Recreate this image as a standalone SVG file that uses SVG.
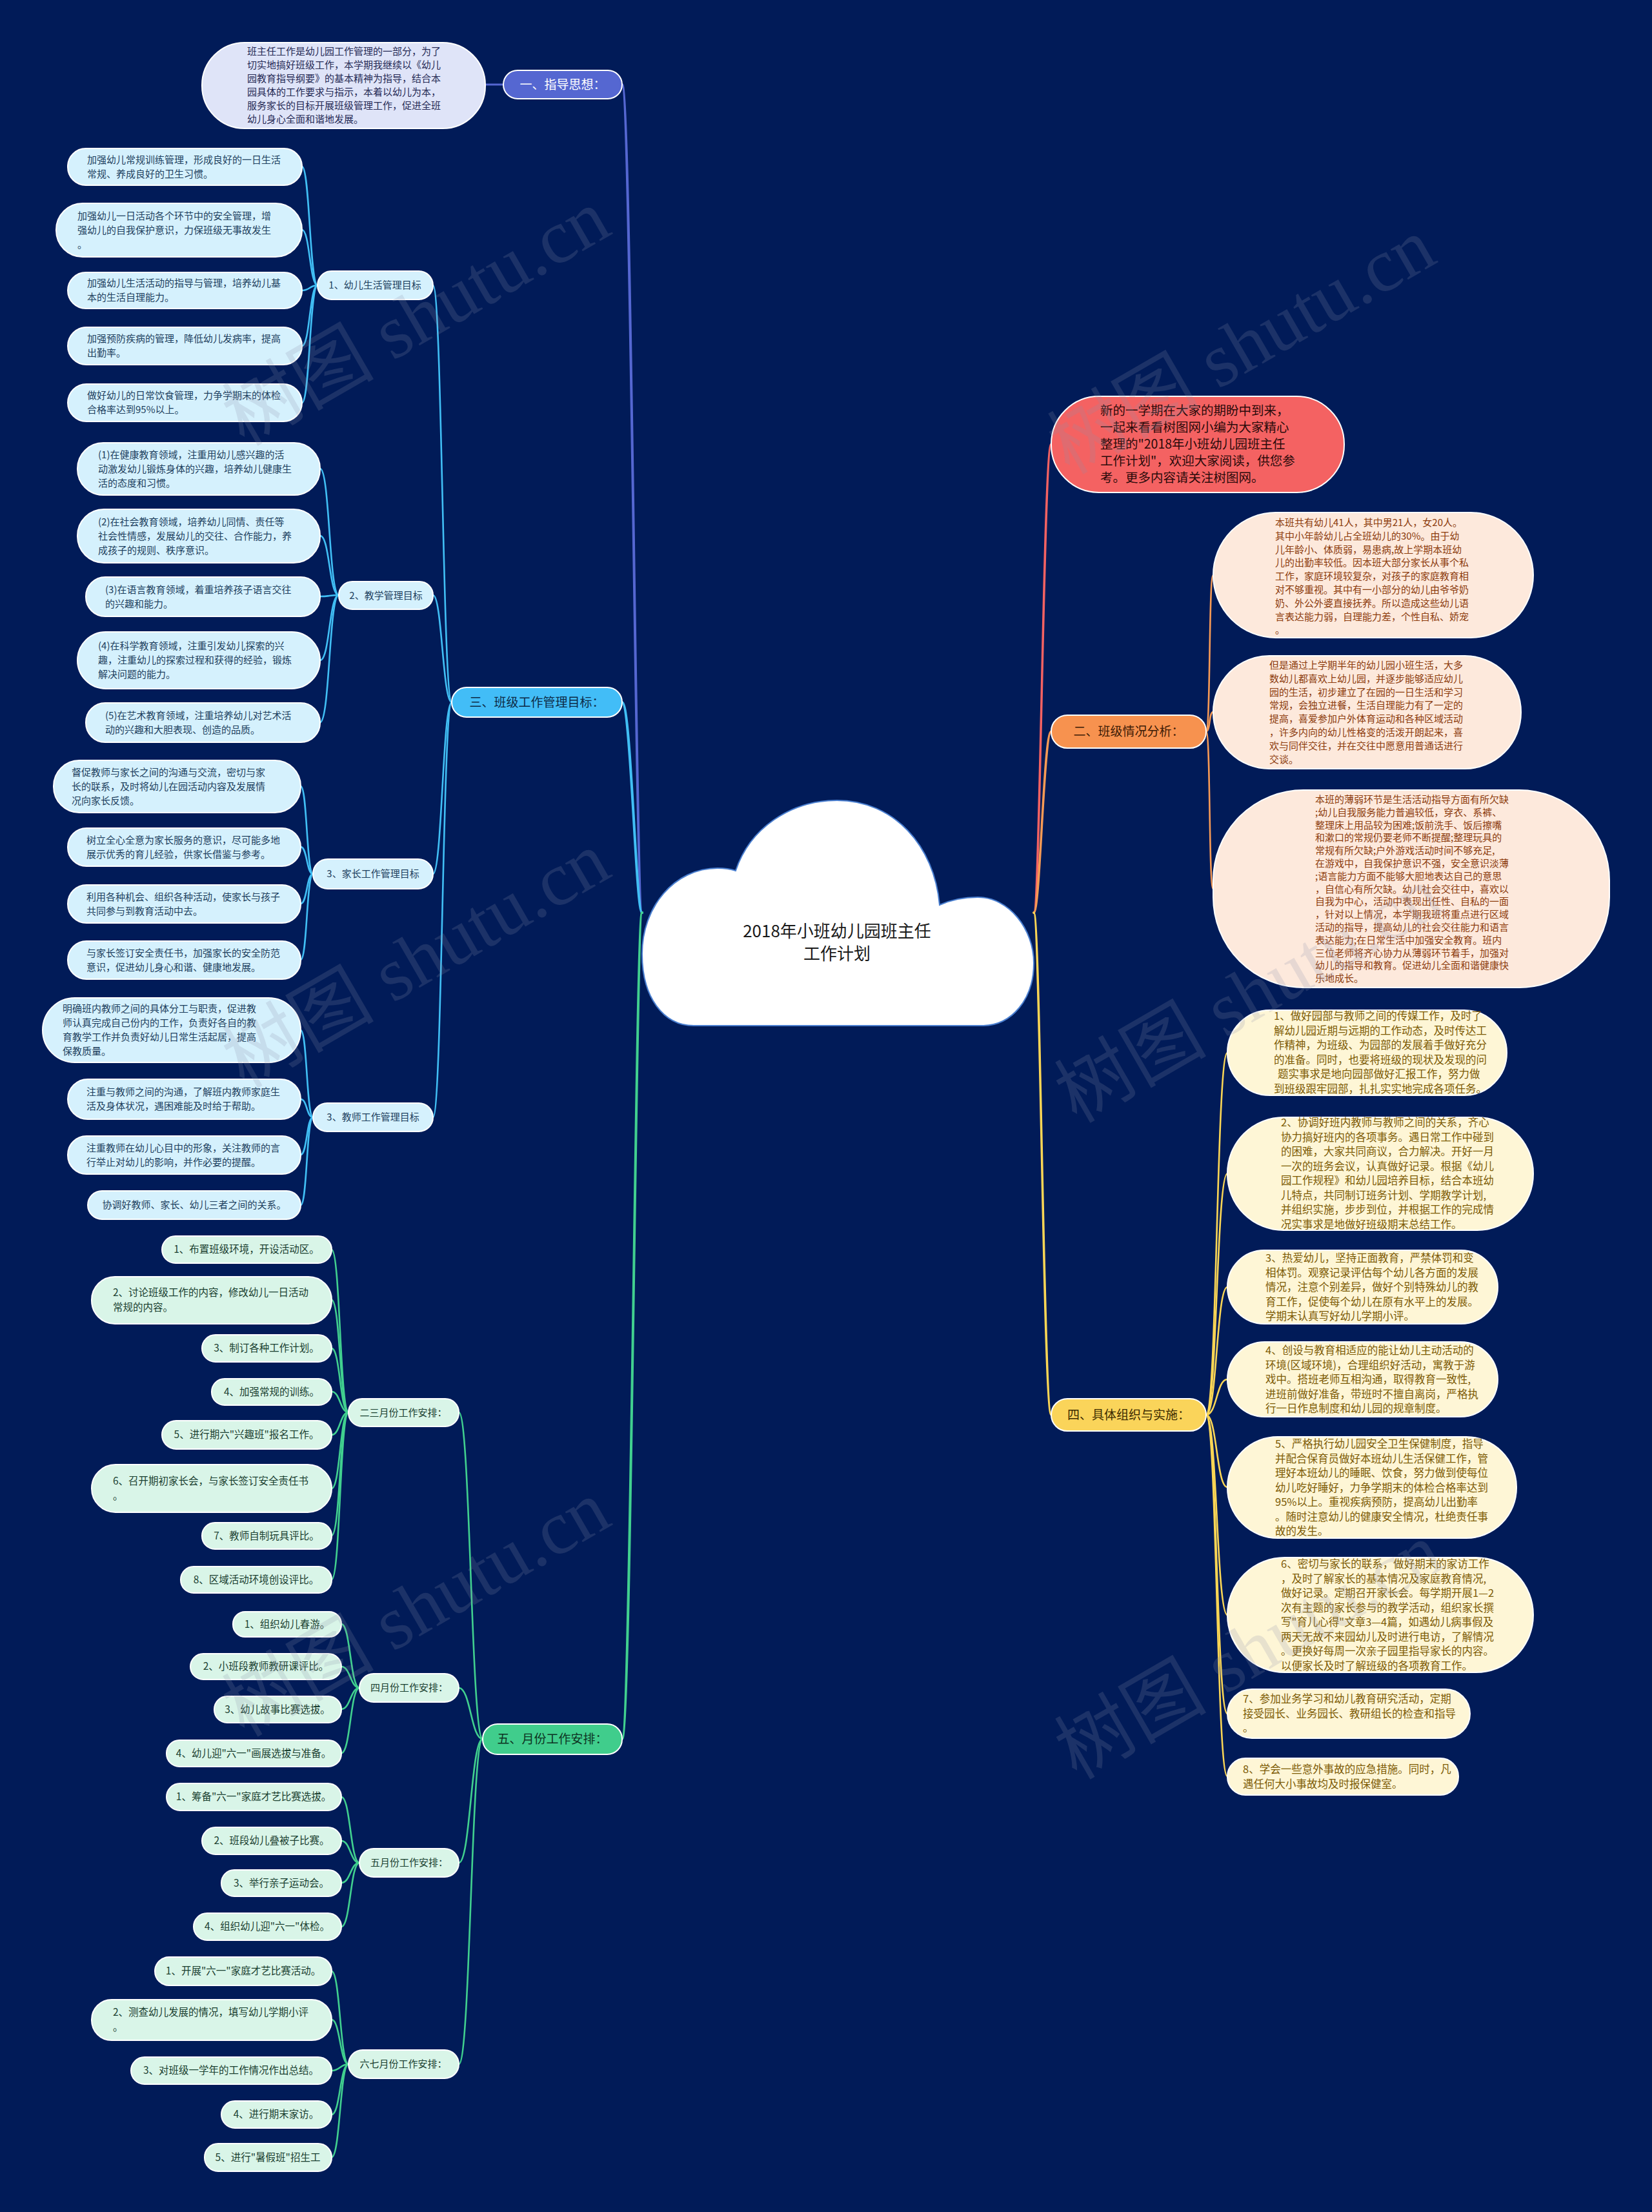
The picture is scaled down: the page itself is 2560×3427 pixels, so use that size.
<svg xmlns="http://www.w3.org/2000/svg" width="2560" height="3427" viewBox="0 0 2560 3427">
<style>
text{font-family:"Noto Sans CJK SC","Noto Sans",sans-serif}
.nd{stroke:#ffffff;stroke-width:2}
.c{fill:none;stroke-linecap:round}
.cb1{stroke:#5567d1;stroke-width:4}
.cb3{stroke:#41bff5;stroke-width:4}
.cb3s{stroke:#41bff5;stroke-width:2.6}
.cg{stroke:#41d08f;stroke-width:4}
.cgs{stroke:#41d08f;stroke-width:2.6}
.cr{stroke:#f46262;stroke-width:3.5}
.co{stroke:#f79a55;stroke-width:3.5}
.cos{stroke:#f79a55;stroke-width:2.6}
.cy{stroke:#fbd655;stroke-width:3.5}
.cys{stroke:#fbd655;stroke-width:2.6}
.fl{fill:#d5f1fd}
.fm{fill:#d9f5e8}
.fp{fill:#fde9dc}
.fc{fill:#fef6d6}
.tl{font-size:15px;fill:#1d3f5e}
.tm{font-size:15.5px;fill:#1a4030}
.tp{font-size:15px;fill:#8c3b0c}
.tc{font-size:16.5px;fill:#7d5b05}
.t1{font-size:19px}
.mid{text-anchor:middle}
.wm{font-family:"Liberation Serif","Noto Sans CJK SC",serif;font-size:118px;fill:#8a93a8;fill-opacity:0.2}
</style>
<rect x="0" y="0" width="2560" height="3427" fill="#011b58"/>

<g id="connectors">
<path class="c cb1" d="M 995 1414 C 985 1414, 978 131, 964 131"/>
<path class="c cb1" d="M 780 131 L 752 131" style="stroke-width:3"/>
<path class="c cb3" d="M 995 1414 C 985 1414, 978 1088, 964 1088"/>
<path class="c cg" d="M 995 1414 C 985 1414, 978 2694, 964 2694"/>
<path class="c cr" d="M 1602 1414 C 1612 1414, 1617 688, 1629 688"/>
<path class="c co" d="M 1602 1414 C 1612 1414, 1617 1133, 1629 1133"/>
<path class="c cy" d="M 1602 1414 C 1612 1414, 1617 2192, 1629 2192"/>

<path class="c cb3s" d="M 700 1088 C 686 1088, 685 442, 671 442"/>
<path class="c cb3s" d="M 700 1088 C 686 1088, 685 922, 671 922"/>
<path class="c cb3s" d="M 700 1088 C 686 1088, 685 1354, 671 1354"/>
<path class="c cb3s" d="M 700 1088 C 686 1088, 685 1731, 671 1731"/>

<path class="c cb3s" d="M 492 442 C 480 442, 480 258, 468 258"/>
<path class="c cb3s" d="M 492 442 C 480 442, 480 356, 468 356"/>
<path class="c cb3s" d="M 492 442 C 480 442, 480 450, 468 450"/>
<path class="c cb3s" d="M 492 442 C 480 442, 480 536, 468 536"/>
<path class="c cb3s" d="M 492 442 C 480 442, 480 624, 468 624"/>

<path class="c cb3s" d="M 525 922 C 510 922, 511 726, 496 726"/>
<path class="c cb3s" d="M 525 922 C 510 922, 511 830, 496 830"/>
<path class="c cb3s" d="M 525 922 C 510 922, 511 924, 496 924"/>
<path class="c cb3s" d="M 525 922 C 510 922, 511 1023, 496 1023"/>
<path class="c cb3s" d="M 525 922 C 510 922, 511 1119, 496 1119"/>

<path class="c cb3s" d="M 485 1354 C 475 1354, 476 1218, 466 1218"/>
<path class="c cb3s" d="M 485 1354 C 475 1354, 476 1312, 466 1312"/>
<path class="c cb3s" d="M 485 1354 C 475 1354, 476 1400, 466 1400"/>
<path class="c cb3s" d="M 485 1354 C 475 1354, 476 1487, 466 1487"/>

<path class="c cb3s" d="M 485 1731 C 475 1731, 476 1596, 466 1596"/>
<path class="c cb3s" d="M 485 1731 C 475 1731, 476 1703, 466 1703"/>
<path class="c cb3s" d="M 485 1731 C 475 1731, 476 1789, 466 1789"/>
<path class="c cb3s" d="M 485 1731 C 475 1731, 476 1867, 466 1867"/>

<path class="c cgs" d="M 748 2694 C 730 2694, 729 2188, 711 2188"/>
<path class="c cgs" d="M 748 2694 C 730 2694, 729 2615, 711 2615"/>
<path class="c cgs" d="M 748 2694 C 730 2694, 729 2886, 711 2886"/>
<path class="c cgs" d="M 748 2694 C 730 2694, 729 3198, 711 3198"/>

<path class="c cgs" d="M 540 2188 C 527 2188, 527 1936, 514 1936"/>
<path class="c cgs" d="M 540 2188 C 527 2188, 527 2014, 514 2014"/>
<path class="c cgs" d="M 540 2188 C 527 2188, 527 2089, 514 2089"/>
<path class="c cgs" d="M 540 2188 C 527 2188, 527 2156, 514 2156"/>
<path class="c cgs" d="M 540 2188 C 527 2188, 527 2223, 514 2223"/>
<path class="c cgs" d="M 540 2188 C 527 2188, 527 2306, 514 2306"/>
<path class="c cgs" d="M 540 2188 C 527 2188, 527 2379, 514 2379"/>
<path class="c cgs" d="M 540 2188 C 527 2188, 527 2447, 514 2447"/>

<path class="c cgs" d="M 557 2615 C 543 2615, 543 2516, 529 2516"/>
<path class="c cgs" d="M 557 2615 C 543 2615, 543 2582, 529 2582"/>
<path class="c cgs" d="M 557 2615 C 543 2615, 543 2648, 529 2648"/>
<path class="c cgs" d="M 557 2615 C 543 2615, 543 2716, 529 2716"/>

<path class="c cgs" d="M 557 2886 C 543 2886, 543 2784, 529 2784"/>
<path class="c cgs" d="M 557 2886 C 543 2886, 543 2852, 529 2852"/>
<path class="c cgs" d="M 557 2886 C 543 2886, 543 2917, 529 2917"/>
<path class="c cgs" d="M 557 2886 C 543 2886, 543 2985, 529 2985"/>

<path class="c cgs" d="M 540 3198 C 527 3198, 527 3054, 514 3054"/>
<path class="c cgs" d="M 540 3198 C 527 3198, 527 3129, 514 3129"/>
<path class="c cgs" d="M 540 3198 C 527 3198, 527 3208, 514 3208"/>
<path class="c cgs" d="M 540 3198 C 527 3198, 527 3276, 514 3276"/>
<path class="c cgs" d="M 540 3198 C 527 3198, 527 3342, 514 3342"/>

<path class="c cos" d="M 1869 1133 C 1876 1133, 1873 891, 1880 891"/>
<path class="c cos" d="M 1869 1133 C 1876 1133, 1873 1103, 1880 1103"/>
<path class="c cos" d="M 1869 1133 C 1876 1133, 1873 1377, 1880 1377"/>

<path class="c cys" d="M 1869 2192 C 1886 2192, 1885 1631, 1902 1631"/>
<path class="c cys" d="M 1869 2192 C 1886 2192, 1885 1818, 1902 1818"/>
<path class="c cys" d="M 1869 2192 C 1886 2192, 1885 1994, 1902 1994"/>
<path class="c cys" d="M 1869 2192 C 1886 2192, 1885 2137, 1902 2137"/>
<path class="c cys" d="M 1869 2192 C 1886 2192, 1885 2304, 1902 2304"/>
<path class="c cys" d="M 1869 2192 C 1886 2192, 1885 2502, 1902 2502"/>
<path class="c cys" d="M 1869 2192 C 1886 2192, 1885 2655, 1902 2655"/>
<path class="c cys" d="M 1869 2192 C 1886 2192, 1885 2752, 1902 2752"/>
</g>

<g id="root">
<path d="M 1075 1589 C 1028 1589, 995 1545, 995 1478 C 995 1405, 1045 1345, 1112 1345 C 1122 1345, 1131 1346, 1140 1349 C 1162 1283, 1225 1240, 1297 1240 C 1385 1240, 1448 1310, 1456 1402 C 1474 1394, 1494 1390, 1515 1390 C 1564 1390, 1602 1440, 1602 1492 C 1602 1548, 1568 1589, 1522 1589 Z" fill="#ffffff" stroke="#4a7fd0" stroke-width="2"/>
<text class="mid" x="1297" y="1452" font-size="26" fill="#1a1a1a">2018年小班幼儿园班主任</text>
<text class="mid" x="1297" y="1487" font-size="26" fill="#1a1a1a">工作计划</text>
</g>

<g id="b1">
<rect class="nd" x="780" y="109" width="184" height="44" rx="22" fill="#5567d1"/>
<text class="t1 mid" x="872" y="138" fill="#ffffff">一、指导思想：</text>
</g>
<g id="b1-1">
<rect class="nd" x="313" y="66" width="439" height="133" rx="66" fill="#dfe4f8"/>
<text x="383" y="85" font-size="15" fill="#262a55"><tspan x="383">班主任工作是幼儿园工作管理的一部分，为了</tspan><tspan x="383" dy="21">切实地搞好班级工作，本学期我继续以《幼儿</tspan><tspan x="383" dy="21">园教育指导纲要》的基本精神为指导，结合本</tspan><tspan x="383" dy="21">园具体的工作要求与指示，本着以幼儿为本，</tspan><tspan x="383" dy="21">服务家长的目标开展班级管理工作，促进全班</tspan><tspan x="383" dy="21">幼儿身心全面和谐地发展。</tspan></text>
</g>

<g id="b3">
<rect class="nd" x="700" y="1065" width="264" height="46" rx="23" fill="#42bdf7"/>
<text class="t1 mid" x="832" y="1095" fill="#0d2a45">三、班级工作管理目标：</text>
</g>
<g id="b3-1">
<rect class="nd fl" x="492" y="420" width="179" height="44" rx="22"/>
<text class="tl mid" x="581" y="447">1、幼儿生活管理目标</text>
</g>
<g id="b3-1a"><rect class="nd fl" x="105" y="230" width="363" height="57" rx="28"/>
<text class="tl" y="253"><tspan x="135">加强幼儿常规训练管理，形成良好的一日生活</tspan><tspan x="135" dy="22">常规、养成良好的卫生习惯。</tspan></text></g>
<g id="b3-1b"><rect class="nd fl" x="87" y="315" width="381" height="83" rx="41"/>
<text class="tl" y="340"><tspan x="120">加强幼儿一日活动各个环节中的安全管理，增</tspan><tspan x="120" dy="22">强幼儿的自我保护意识，力保班级无事故发生</tspan><tspan x="120" dy="22">。</tspan></text></g>
<g id="b3-1c"><rect class="nd fl" x="105" y="422" width="363" height="56" rx="28"/>
<text class="tl" y="444"><tspan x="135">加强幼儿生活活动的指导与管理，培养幼儿基</tspan><tspan x="135" dy="22">本的生活自理能力。</tspan></text></g>
<g id="b3-1d"><rect class="nd fl" x="105" y="507" width="363" height="58" rx="29"/>
<text class="tl" y="530"><tspan x="135">加强预防疾病的管理，降低幼儿发病率，提高</tspan><tspan x="135" dy="22">出勤率。</tspan></text></g>
<g id="b3-1e"><rect class="nd fl" x="105" y="595" width="363" height="58" rx="29"/>
<text class="tl" y="618"><tspan x="135">做好幼儿的日常饮食管理，力争学期末的体检</tspan><tspan x="135" dy="22">合格率达到95%以上。</tspan></text></g>

<g id="b3-2">
<rect class="nd fl" x="525" y="901" width="146" height="43" rx="21"/>
<text class="tl mid" x="598" y="928">2、教学管理目标</text>
</g>
<g id="b3-2a"><rect class="nd fl" x="120" y="686" width="376" height="81" rx="40"/>
<text class="tl" y="710"><tspan x="152">(1)在健康教育领域，注重用幼儿感兴趣的活</tspan><tspan x="152" dy="22">动激发幼儿锻炼身体的兴趣，培养幼儿健康生</tspan><tspan x="152" dy="22">活的态度和习惯。</tspan></text></g>
<g id="b3-2b"><rect class="nd fl" x="120" y="789" width="376" height="83" rx="41"/>
<text class="tl" y="814"><tspan x="152">(2)在社会教育领域，培养幼儿同情、责任等</tspan><tspan x="152" dy="22">社会性情感，发展幼儿的交往、合作能力，养</tspan><tspan x="152" dy="22">成孩子的规则、秩序意识。</tspan></text></g>
<g id="b3-2c"><rect class="nd fl" x="133" y="894" width="363" height="61" rx="30"/>
<text class="tl" y="919"><tspan x="163">(3)在语言教育领域，着重培养孩子语言交往</tspan><tspan x="163" dy="22">的兴趣和能力。</tspan></text></g>
<g id="b3-2d"><rect class="nd fl" x="120" y="979" width="376" height="88" rx="44"/>
<text class="tl" y="1006"><tspan x="152">(4)在科学教育领域，注重引发幼儿探索的兴</tspan><tspan x="152" dy="22">趣，注重幼儿的探索过程和获得的经验，锻炼</tspan><tspan x="152" dy="22">解决问题的能力。</tspan></text></g>
<g id="b3-2e"><rect class="nd fl" x="133" y="1089" width="363" height="61" rx="30"/>
<text class="tl" y="1114"><tspan x="163">(5)在艺术教育领域，注重培养幼儿对艺术活</tspan><tspan x="163" dy="22">动的兴趣和大胆表现、创造的品质。</tspan></text></g>

<g id="b3-3">
<rect class="nd fl" x="485" y="1331" width="186" height="46" rx="23"/>
<text class="tl mid" x="578" y="1359">3、家长工作管理目标</text>
</g>
<g id="b3-3a"><rect class="nd fl" x="83" y="1178" width="383" height="81" rx="40"/>
<text class="tl" y="1202"><tspan x="111">督促教师与家长之间的沟通与交流，密切与家</tspan><tspan x="111" dy="22">长的联系，及时将幼儿在园活动内容及发展情</tspan><tspan x="111" dy="22">况向家长反馈。</tspan></text></g>
<g id="b3-3b"><rect class="nd fl" x="105" y="1283" width="361" height="59" rx="29"/>
<text class="tl" y="1307"><tspan x="134">树立全心全意为家长服务的意识，尽可能多地</tspan><tspan x="134" dy="22">展示优秀的育儿经验，供家长借鉴与参考。</tspan></text></g>
<g id="b3-3c"><rect class="nd fl" x="105" y="1371" width="361" height="59" rx="29"/>
<text class="tl" y="1395"><tspan x="134">利用各种机会、组织各种活动，使家长与孩子</tspan><tspan x="134" dy="22">共同参与到教育活动中去。</tspan></text></g>
<g id="b3-3d"><rect class="nd fl" x="105" y="1458" width="361" height="59" rx="29"/>
<text class="tl" y="1482"><tspan x="134">与家长签订安全责任书，加强家长的安全防范</tspan><tspan x="134" dy="22">意识，促进幼儿身心和谐、健康地发展。</tspan></text></g>

<g id="b3-4">
<rect class="nd fl" x="485" y="1709" width="186" height="44" rx="22"/>
<text class="tl mid" x="578" y="1736">3、教师工作管理目标</text>
</g>
<g id="b3-4a"><rect class="nd fl" x="66" y="1546" width="400" height="100" rx="50"/>
<text class="tl" y="1568"><tspan x="97">明确班内教师之间的具体分工与职责，促进教</tspan><tspan x="97" dy="22">师认真完成自己份内的工作，负责好各自的教</tspan><tspan x="97" dy="22">育教学工作并负责好幼儿日常生活起居，提高</tspan><tspan x="97" dy="22">保教质量。</tspan></text></g>
<g id="b3-4b"><rect class="nd fl" x="105" y="1672" width="361" height="62" rx="31"/>
<text class="tl" y="1697"><tspan x="134">注重与教师之间的沟通，了解班内教师家庭生</tspan><tspan x="134" dy="22">活及身体状况，遇困难能及时给于帮助。</tspan></text></g>
<g id="b3-4c"><rect class="nd fl" x="105" y="1760" width="361" height="59" rx="29"/>
<text class="tl" y="1784"><tspan x="134">注重教师在幼儿心目中的形象，关注教师的言</tspan><tspan x="134" dy="22">行举止对幼儿的影响，并作必要的提醒。</tspan></text></g>
<g id="b3-4d"><rect class="nd fl" x="136" y="1845" width="330" height="44" rx="22"/>
<text class="tl mid" x="301" y="1872">协调好教师、家长、幼儿三者之间的关系。</text></g>

<g id="b5">
<rect class="nd" x="748" y="2671" width="216" height="47" rx="23" fill="#40cd8c"/>
<text class="t1 mid" x="856" y="2701" fill="#0d3322">五、月份工作安排：</text>
</g>
<g id="b5-1"><rect class="nd fm" x="540" y="2167" width="171" height="43" rx="21"/>
<text class="tm mid" x="625" y="2194" style="font-size:15px">二三月份工作安排：</text></g>
<g id="b5-1a"><rect class="nd fm" x="251" y="1915" width="263" height="42" rx="21"/><text class="tm mid" x="382" y="1941">1、布置班级环境，开设活动区。</text></g>
<g id="b5-1b"><rect class="nd fm" x="142" y="1978" width="372" height="73" rx="36"/><text class="tm" y="2008"><tspan x="175">2、讨论班级工作的内容，修改幼儿一日活动</tspan><tspan x="175" dy="23">常规的内容。</tspan></text></g>
<g id="b5-1c"><rect class="nd fm" x="313" y="2068" width="201" height="42" rx="21"/><text class="tm mid" x="413" y="2094">3、制订各种工作计划。</text></g>
<g id="b5-1d"><rect class="nd fm" x="328" y="2136" width="186" height="41" rx="20"/><text class="tm mid" x="421" y="2162">4、加强常规的训练。</text></g>
<g id="b5-1e"><rect class="nd fm" x="251" y="2201" width="263" height="44" rx="22"/><text class="tm mid" x="382" y="2228">5、进行期六&quot;兴趣班&quot;报名工作。</text></g>
<g id="b5-1f"><rect class="nd fm" x="142" y="2269" width="372" height="74" rx="37"/><text class="tm" y="2300"><tspan x="175">6、召开期初家长会，与家长签订安全责任书</tspan><tspan x="175" dy="23">。</tspan></text></g>
<g id="b5-1g"><rect class="nd fm" x="313" y="2359" width="201" height="41" rx="20"/><text class="tm mid" x="413" y="2385">7、教师自制玩具评比。</text></g>
<g id="b5-1h"><rect class="nd fm" x="280" y="2427" width="234" height="41" rx="20"/><text class="tm mid" x="397" y="2453">8、区域活动环境创设评比。</text></g>

<g id="b5-2"><rect class="nd fm" x="557" y="2593" width="154" height="44" rx="22"/>
<text class="tm mid" x="634" y="2620" style="font-size:15px">四月份工作安排：</text></g>
<g id="b5-2a"><rect class="nd fm" x="361" y="2497" width="168" height="39" rx="19"/><text class="tm mid" x="445" y="2522">1、组织幼儿春游。</text></g>
<g id="b5-2b"><rect class="nd fm" x="295" y="2562" width="234" height="40" rx="20"/><text class="tm mid" x="412" y="2587">2、小班段教师教研课评比。</text></g>
<g id="b5-2c"><rect class="nd fm" x="332" y="2628" width="197" height="41" rx="20"/><text class="tm mid" x="430" y="2654">3、幼儿故事比赛选拔。</text></g>
<g id="b5-2d"><rect class="nd fm" x="258" y="2696" width="271" height="41" rx="20"/><text class="tm mid" x="393" y="2722">4、幼儿迎&quot;六一&quot;画展选拔与准备。</text></g>

<g id="b5-3"><rect class="nd fm" x="557" y="2864" width="154" height="44" rx="22"/>
<text class="tm mid" x="634" y="2891" style="font-size:15px">五月份工作安排：</text></g>
<g id="b5-3a"><rect class="nd fm" x="258" y="2763" width="271" height="42" rx="21"/><text class="tm mid" x="393" y="2789">1、筹备&quot;六一&quot;家庭才艺比赛选拔。</text></g>
<g id="b5-3b"><rect class="nd fm" x="313" y="2831" width="216" height="42" rx="21"/><text class="tm mid" x="421" y="2857">2、班段幼儿叠被子比赛。</text></g>
<g id="b5-3c"><rect class="nd fm" x="343" y="2897" width="186" height="41" rx="20"/><text class="tm mid" x="436" y="2923">3、举行亲子运动会。</text></g>
<g id="b5-3d"><rect class="nd fm" x="300" y="2964" width="229" height="42" rx="21"/><text class="tm mid" x="414" y="2990">4、组织幼儿迎&quot;六一&quot;体检。</text></g>

<g id="b5-4"><rect class="nd fm" x="540" y="3176" width="171" height="44" rx="22"/>
<text class="tm mid" x="625" y="3203" style="font-size:15px">六七月份工作安排：</text></g>
<g id="b5-4a"><rect class="nd fm" x="240" y="3032" width="274" height="44" rx="22"/><text class="tm mid" x="377" y="3059">1、开展&quot;六一&quot;家庭才艺比赛活动。</text></g>
<g id="b5-4b"><rect class="nd fm" x="142" y="3098" width="372" height="63" rx="31"/><text class="tm" y="3123"><tspan x="175">2、测查幼儿发展的情况，填写幼儿学期小评</tspan><tspan x="175" dy="23">。</tspan></text></g>
<g id="b5-4c"><rect class="nd fm" x="203" y="3187" width="311" height="42" rx="21"/><text class="tm mid" x="358" y="3213">3、对班级一学年的工作情况作出总结。</text></g>
<g id="b5-4d"><rect class="nd fm" x="343" y="3255" width="171" height="42" rx="21"/><text class="tm mid" x="428" y="3281">4、进行期末家访。</text></g>
<g id="b5-4e"><rect class="nd fm" x="317" y="3321" width="197" height="43" rx="21"/><text class="tm mid" x="415" y="3348">5、进行&quot;暑假班&quot;招生工</text></g>

<g id="intro">
<rect class="nd" x="1629" y="614" width="454" height="149" rx="74" fill="#f46262"/>
<text y="643" font-size="19.5" fill="#2a0a0a"><tspan x="1705">新的一学期在大家的期盼中到来，</tspan><tspan x="1705" dy="26">一起来看看树图网小编为大家精心</tspan><tspan x="1705" dy="26">整理的&quot;2018年小班幼儿园班主任</tspan><tspan x="1705" dy="26">工作计划&quot;，欢迎大家阅读，供您参</tspan><tspan x="1705" dy="26">考。更多内容请关注树图网。</tspan></text>
</g>

<g id="b2">
<rect class="nd" x="1629" y="1108" width="240" height="51" rx="25" fill="#f7924f"/>
<text class="t1 mid" x="1749" y="1140" fill="#3b1a05">二、班级情况分析：</text>
</g>
<g id="b2-1"><rect class="nd fp" x="1880" y="794" width="496" height="194" rx="97"/>
<text class="tp" y="815"><tspan x="1976">本班共有幼儿41人，其中男21人，女20人。</tspan><tspan x="1976" dy="20.8">其中小年龄幼儿占全班幼儿的30%。由于幼</tspan><tspan x="1976" dy="20.8">儿年龄小、体质弱，易患病,故上学期本班幼</tspan><tspan x="1976" dy="20.8">儿的出勤率较低。因本班大部分家长从事个私</tspan><tspan x="1976" dy="20.8">工作，家庭环境较复杂，对孩子的家庭教育相</tspan><tspan x="1976" dy="20.8">对不够重视。其中有一小部分的幼儿由爷爷奶</tspan><tspan x="1976" dy="20.8">奶、外公外婆直接抚养。所以造成这些幼儿语</tspan><tspan x="1976" dy="20.8">言表达能力弱，自理能力差，个性自私、娇宠</tspan><tspan x="1976" dy="20.8">。</tspan></text></g>
<g id="b2-2"><rect class="nd fp" x="1880" y="1016" width="477" height="175" rx="87"/>
<text class="tp" y="1036"><tspan x="1967">但是通过上学期半年的幼儿园小班生活，大多</tspan><tspan x="1967" dy="20.8">数幼儿都喜欢上幼儿园，并逐步能够适应幼儿</tspan><tspan x="1967" dy="20.8">园的生活，初步建立了在园的一日生活和学习</tspan><tspan x="1967" dy="20.8">常规，会独立进餐，生活自理能力有了一定的</tspan><tspan x="1967" dy="20.8">提高，喜爱参加户外体育运动和各种区域活动</tspan><tspan x="1967" dy="20.8">，许多内向的幼儿性格变的活泼开朗起来，喜</tspan><tspan x="1967" dy="20.8">欢与同伴交往，并在交往中愿意用普通话进行</tspan><tspan x="1967" dy="20.8">交谈。</tspan></text></g>
<g id="b2-3"><rect class="nd fp" x="1880" y="1224" width="614" height="306" rx="140"/>
<text class="tp" y="1244"><tspan x="2038">本班的薄弱环节是生活活动指导方面有所欠缺</tspan><tspan x="2038" dy="19.8">;幼儿自我服务能力普遍较低，穿衣、系裤、</tspan><tspan x="2038" dy="19.8">整理床上用品较为困难;饭前洗手、饭后擦嘴</tspan><tspan x="2038" dy="19.8">和漱口的常规仍要老师不断提醒;整理玩具的</tspan><tspan x="2038" dy="19.8">常规有所欠缺;户外游戏活动时间不够充足,</tspan><tspan x="2038" dy="19.8">在游戏中，自我保护意识不强，安全意识淡薄</tspan><tspan x="2038" dy="19.8">;语言能力方面不能够大胆地表达自己的意思</tspan><tspan x="2038" dy="19.8">，自信心有所欠缺。幼儿社会交往中，喜欢以</tspan><tspan x="2038" dy="19.8">自我为中心，活动中表现出任性、自私的一面</tspan><tspan x="2038" dy="19.8">，针对以上情况，本学期我班将重点进行区域</tspan><tspan x="2038" dy="19.8">活动的指导，提高幼儿的社会交往能力和语言</tspan><tspan x="2038" dy="19.8">表达能力;在日常生活中加强安全教育。班内</tspan><tspan x="2038" dy="19.8">三位老师将齐心协力从薄弱环节着手，加强对</tspan><tspan x="2038" dy="19.8">幼儿的指导和教育。促进幼儿全面和谐健康快</tspan><tspan x="2038" dy="19.8">乐地成长。</tspan></text></g>

<g id="b4">
<rect class="nd" x="1629" y="2167" width="240" height="50" rx="25" fill="#fad45a"/>
<text class="t1 mid" x="1749" y="2199" fill="#3b2a00">四、具体组织与实施：</text>
</g>
<g id="b4-1"><rect class="nd fc" x="1902" y="1565" width="433" height="132" rx="66"/>
<text class="tc" y="1580"><tspan x="1974">1、做好园部与教师之间的传媒工作，及时了</tspan><tspan x="1974" dy="22.5">解幼儿园近期与远期的工作动态，及时传达工</tspan><tspan x="1974" dy="22.5">作精神，为班级、为园部的发展着手做好充分</tspan><tspan x="1974" dy="22.5">的准备。同时，也要将班级的现状及发现的问</tspan><tspan x="1980" dy="22.5">题实事求是地向园部做好汇报工作，努力做</tspan><tspan x="1974" dy="22.5">到班级跟牢园部，扎扎实实地完成各项任务。</tspan></text></g>
<g id="b4-2"><rect class="nd fc" x="1902" y="1731" width="474" height="175" rx="87"/>
<text class="tc" y="1745"><tspan x="1985">2、协调好班内教师与教师之间的关系，齐心</tspan><tspan x="1985" dy="22.5">协力搞好班内的各项事务。遇日常工作中碰到</tspan><tspan x="1985" dy="22.5">的困难，大家共同商议，合力解决。开好一月</tspan><tspan x="1985" dy="22.5">一次的班务会议，认真做好记录。根据《幼儿</tspan><tspan x="1985" dy="22.5">园工作规程》和幼儿园培养目标，结合本班幼</tspan><tspan x="1985" dy="22.5">儿特点，共同制订班务计划、学期教学计划,</tspan><tspan x="1985" dy="22.5">并组织实施，步步到位，并根据工作的完成情</tspan><tspan x="1985" dy="22.5">况实事求是地做好班级期末总结工作。</tspan></text></g>
<g id="b4-3"><rect class="nd fc" x="1902" y="1937" width="419" height="114" rx="57"/>
<text class="tc" y="1955"><tspan x="1961">3、热爱幼儿，坚持正面教育，严禁体罚和变</tspan><tspan x="1961" dy="22.5">相体罚。观察记录评估每个幼儿各方面的发展</tspan><tspan x="1961" dy="22.5">情况，注意个别差异，做好个别特殊幼儿的教</tspan><tspan x="1961" dy="22.5">育工作，促使每个幼儿在原有水平上的发展。</tspan><tspan x="1961" dy="22.5">学期末认真写好幼儿学期小评。</tspan></text></g>
<g id="b4-4"><rect class="nd fc" x="1902" y="2079" width="419" height="116" rx="58"/>
<text class="tc" y="2098"><tspan x="1961">4、创设与教育相适应的能让幼儿主动活动的</tspan><tspan x="1961" dy="22.5">环境(区域环境)，合理组织好活动，寓教于游</tspan><tspan x="1961" dy="22.5">戏中。搭班老师互相沟通，取得教育一致性,</tspan><tspan x="1961" dy="22.5">进班前做好准备，带班时不擅自离岗，严格执</tspan><tspan x="1961" dy="22.5">行一日作息制度和幼儿园的规章制度。</tspan></text></g>
<g id="b4-5"><rect class="nd fc" x="1902" y="2226" width="448" height="157" rx="78"/>
<text class="tc" y="2243"><tspan x="1976">5、严格执行幼儿园安全卫生保健制度，指导</tspan><tspan x="1976" dy="22.5">并配合保育员做好本班幼儿生活保健工作，管</tspan><tspan x="1976" dy="22.5">理好本班幼儿的睡眠、饮食，努力做到使每位</tspan><tspan x="1976" dy="22.5">幼儿吃好睡好，力争学期末的体检合格率达到</tspan><tspan x="1976" dy="22.5">95%以上。重视疾病预防，提高幼儿出勤率</tspan><tspan x="1976" dy="22.5">。随时注意幼儿的健康安全情况，杜绝责任事</tspan><tspan x="1976" dy="22.5">故的发生。</tspan></text></g>
<g id="b4-6"><rect class="nd fc" x="1902" y="2413" width="474" height="178" rx="89"/>
<text class="tc" y="2429"><tspan x="1985">6、密切与家长的联系，做好期末的家访工作</tspan><tspan x="1985" dy="22.5">，及时了解家长的基本情况及家庭教育情况,</tspan><tspan x="1985" dy="22.5">做好记录。定期召开家长会。每学期开展1—2</tspan><tspan x="1985" dy="22.5">次有主题的家长参与的教学活动，组织家长撰</tspan><tspan x="1985" dy="22.5">写&quot;育儿心得&quot;文章3—4篇，如遇幼儿病事假及</tspan><tspan x="1985" dy="22.5">两天无故不来园幼儿及时进行电访，了解情况</tspan><tspan x="1985" dy="22.5">。更换好每周一次亲子园里指导家长的内容。</tspan><tspan x="1985" dy="22.5">以便家长及时了解班级的各项教育工作。</tspan></text></g>
<g id="b4-7"><rect class="nd fc" x="1902" y="2617" width="376" height="76" rx="38"/>
<text class="tc" y="2638"><tspan x="1926">7、参加业务学习和幼儿教育研究活动，定期</tspan><tspan x="1926" dy="22.5">接受园长、业务园长、教研组长的检查和指导</tspan><tspan x="1926" dy="22.5">。</tspan></text></g>
<g id="b4-8"><rect class="nd fc" x="1902" y="2724" width="358" height="57" rx="28"/>
<text class="tc" y="2747"><tspan x="1926">8、学会一些意外事故的应急措施。同时，凡</tspan><tspan x="1926" dy="22.5">遇任何大小事故均及时报保健室。</tspan></text></g>

<g id="watermarks">
<text class="wm mid" transform="translate(645 492) rotate(-30)" y="40">树图 shutu.cn</text>
<text class="wm mid" transform="translate(645 1487) rotate(-30)" y="40">树图 shutu.cn</text>
<text class="wm mid" transform="translate(645 2492) rotate(-30)" y="40">树图 shutu.cn</text>
<text class="wm mid" transform="translate(1924 536) rotate(-30)" y="40">树图 shutu.cn</text>
<text class="wm mid" transform="translate(1935 1541) rotate(-30)" y="40">树图 shutu.cn</text>
<text class="wm mid" transform="translate(1935 2558) rotate(-30)" y="40">树图 shutu.cn</text>
</g>
</svg>
